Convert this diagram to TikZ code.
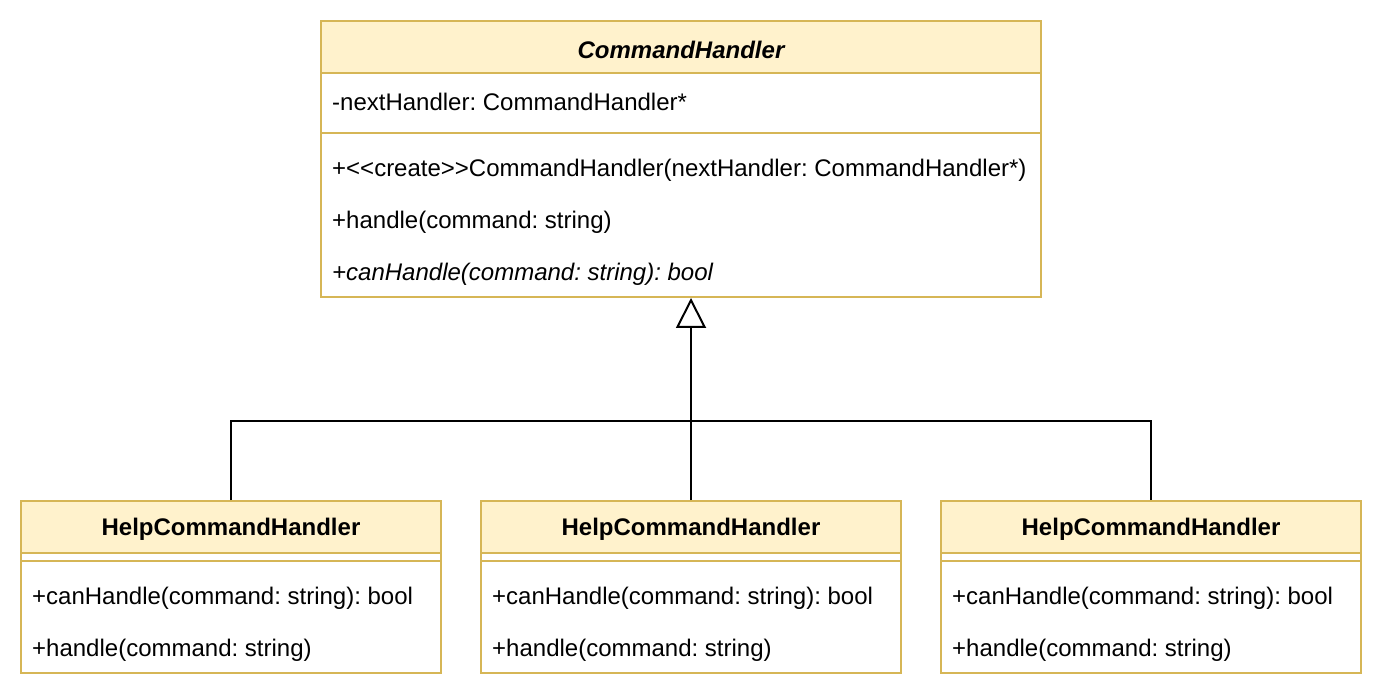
\documentclass[tikz,border=0pt]{standalone}
\usepackage{fontspec}
\setmainfont{Liberation Sans}
\usetikzlibrary{arrows.meta}
\definecolor{umlfill}{HTML}{FFF2CC}
\definecolor{umlline}{HTML}{D6B656}
\frenchspacing
\begin{document}
\begin{tikzpicture}[x=1pt,y=-1pt,
  box/.style={draw=umlline,line width=2pt,fill=white,inner sep=0pt},
  head/.style={draw=umlline,line width=2pt,fill=umlfill},
  sepline/.style={draw=umlline,line width=2pt},
  member/.style={anchor=west,font=\fontsize{24}{28}\selectfont\frenchspacing,inner sep=0pt},
  title/.style={anchor=center,font=\fontsize{24}{28}\selectfont\bfseries,inner sep=0pt},
  inherit/.style={draw=black,line width=2pt,-{Triangle[open,length=30pt,width=30pt,fill=white,line width=2pt]}},
  link/.style={draw=black,line width=2pt}
]
\useasboundingbox (0,0) rectangle (1382,700);
% Abstract class
\node[box,minimum width=720pt,minimum height=276pt] (ch) at (681,159) {};
\path[head] (321,21) rectangle (1041,73);
\node[title] (chT) at (681,49.5) {\itshape CommandHandler};
\path[sepline] (321,133) -- (1041,133);
\node[member] (a1) at (332,102) {-nextHandler: CommandHandler*};
\node[member] (m1) at (332,170) {+{<}{<}create{>}{>}CommandHandler(nextHandler: CommandHandler*)};
\node[member] (m2) at (332,222) {+handle(command: string)};
\node[member] (m3) at (332,274) {\itshape +canHandle(command: string): bool};
% Children
\foreach \n/\cx in {c1/231,c2/691,c3/1151}{
  \node[box,minimum width=420pt,minimum height=172pt] (\n) at (\cx,587) {};
  \path[head] (\cx-210,501) rectangle (\cx+210,553);
  \path[sepline] (\cx-210,561) -- (\cx+210,561);
  \node[title] (\n T) at (\cx,529.5) {HelpCommandHandler};
  \node[member] (\n a) at (\cx-199,598) {+canHandle(command: string): bool};
  \node[member] (\n b) at (\cx-199,650) {+handle(command: string)};
}
% Connectors
\coordinate (j) at (691,421);
\draw[link] (c1.north) -- (c1.north |- j) -- (c3.north |- j) -- (c3.north);
\draw[inherit] (c2.north) -- (j) -- (ch.south -| j);
\end{tikzpicture}
\end{document}
